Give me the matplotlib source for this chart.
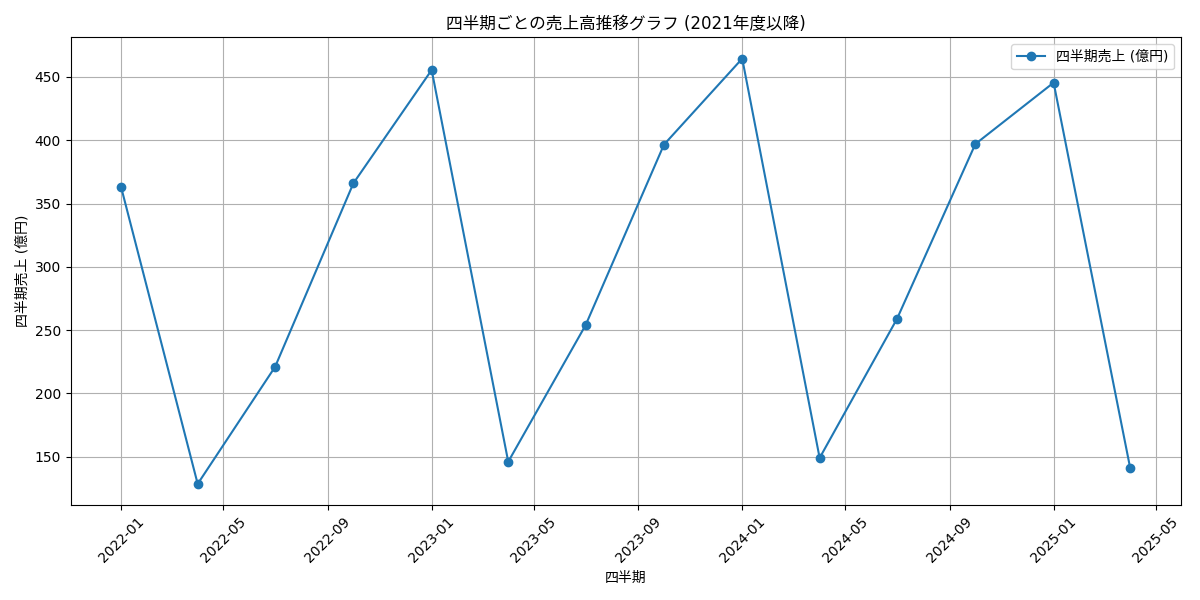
import matplotlib
matplotlib.use("Agg")
import matplotlib.pyplot as plt
import pandas as pd

plt.rcParams['font.family'] = ['DejaVu Sans', 'Noto Sans CJK JP']

dates = pd.to_datetime([
    "2022-01-01", "2022-04-01", "2022-07-01", "2022-10-01",
    "2023-01-01", "2023-04-01", "2023-07-01", "2023-10-01",
    "2024-01-01", "2024-04-01", "2024-07-01", "2024-10-01",
    "2025-01-01", "2025-04-01",
])
sales = [363, 128.5, 221, 366, 455.5, 146, 254, 396.5, 464.5, 149, 259, 397, 445.5, 141]

title = "四半期ごとの売上高推移グラフ (2021年度以降)"
series_label = "四半期売上 (億円)"
xlabel = "四半期"
ylabel = "四半期売上 (億円)"

fig, ax = plt.subplots(figsize=(12, 6), dpi=100)
ax.plot(dates, sales, marker='o', label=series_label)
ax.set_title(title)
ax.set_xlabel(xlabel)
ax.set_ylabel(ylabel)
ax.grid(True)
ax.legend()
plt.xticks(rotation=45)
fig.tight_layout()
fig.savefig("out.png")
